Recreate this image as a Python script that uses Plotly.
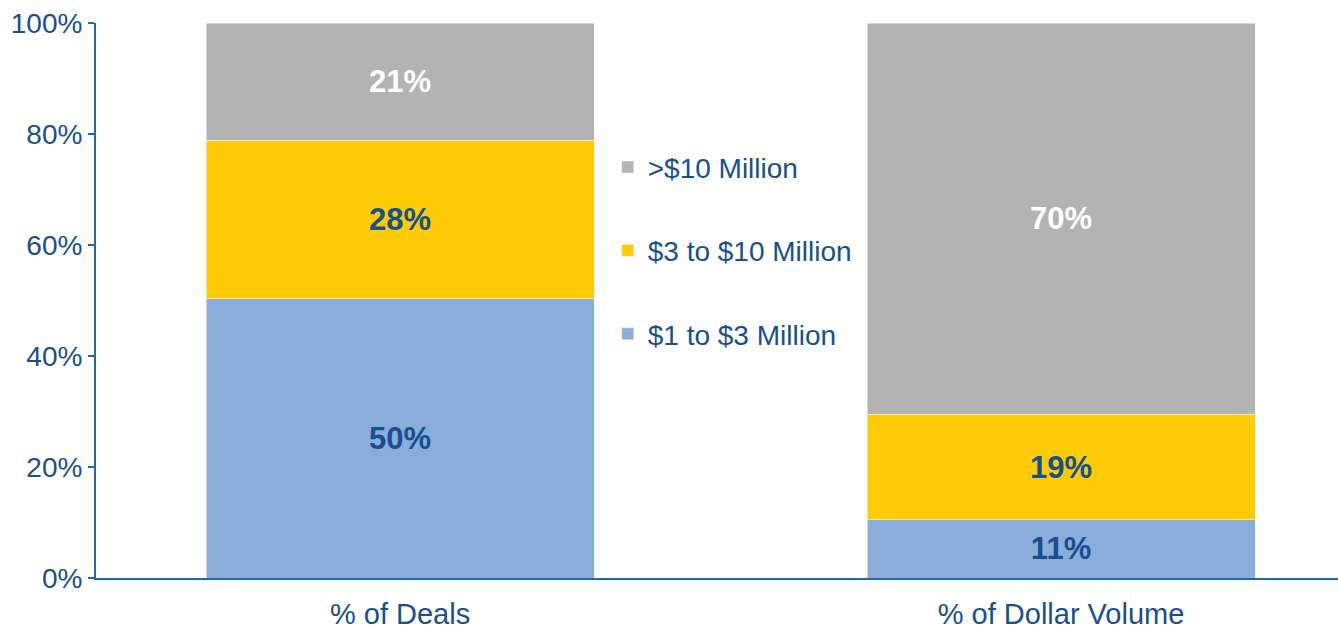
import plotly.graph_objects as go

categories = ["% of Deals", "% of Dollar Volume"]
series_names = ["$1 to $3 Million", "$3 to $10 Million", ">$10 Million"]
small_vals = [50.3, 10.5]
mid_vals = [28.6, 19.0]
large_vals = [21.1, 70.5]
small_labels = ["50%", "11%"]
mid_labels = ["28%", "19%"]
large_labels = ["21%", "70%"]
y_ticks = [0, 20, 40, 60, 80, 100]
y_tick_labels = ["0%", "20%", "40%", "60%", "80%", "100%"]

colors = ["#8AADDA", "#FECB05", "#B3B3B3"]
text_colors = ["#17508E", "#17508E", "#FFFFFF"]
legend_ranks = [3, 2, 1]
dark = "#17508E"
axis_col = "#1F6AAE"
font_family = "Liberation Sans, Arial, sans-serif"

fig = go.Figure()
for i, (name, vals, labels) in enumerate(zip(series_names,
                                              [small_vals, mid_vals, large_vals],
                                              [small_labels, mid_labels, large_labels])):
    fig.add_trace(go.Bar(
        x=categories, y=vals, name=name, text=labels,
        textposition="inside", insidetextanchor="middle",
        textfont=dict(family=font_family, size=31, color=text_colors[i], weight="bold"),
        marker=dict(color=colors[i], line=dict(width=0.6, color="#F2F2F2")),
        width=0.587, legendgroup=name, legendrank=legend_ranks[i],
        hoverinfo="skip",
    ))

fig.update_layout(
    barmode="stack",
    width=1338, height=632,
    margin=dict(l=96, r=0, t=23, b=54),
    paper_bgcolor="white", plot_bgcolor="white",
    font=dict(family=font_family, color=dark),
    uniformtext=dict(mode=False),
    legend=dict(
        x=0.412, y=0.785, xanchor="left", yanchor="top",
        traceorder="grouped", tracegroupgap=44,
        font=dict(size=28, color=dark, family=font_family),
        itemwidth=30, bgcolor="rgba(0,0,0,0)",
    ),
    showlegend=True,
)
fig.update_xaxes(
    range=[-0.46, 1.419], showline=True, linecolor=axis_col, linewidth=2,
    ticks="", tickfont=dict(size=29, color=dark, family=font_family),
    ticklabelstandoff=9, showgrid=False, zeroline=False, automargin=False,
)
fig.update_yaxes(
    range=[0, 100], tickvals=y_ticks, ticktext=y_tick_labels,
    showline=True, linecolor=axis_col, linewidth=2,
    ticks="outside", ticklen=6, tickwidth=2, tickcolor=axis_col,
    tickfont=dict(size=28, color=dark, family=font_family),
    showgrid=False, zeroline=False, automargin=False,
)

fig.write_html(
    "out.html",
    config={"displayModeBar": False},
    post_script="document.body.style.margin='0';document.body.style.overflow='hidden';",
)
